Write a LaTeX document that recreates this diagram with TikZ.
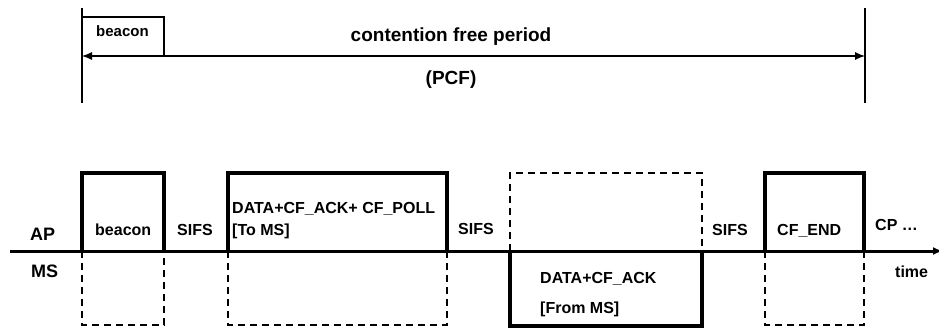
\documentclass[tikz,border=0pt]{standalone}
\usepackage{fontspec}
\setmainfont{Liberation Sans}
\usetikzlibrary{arrows.meta}

\tikzset{
  txt/.style={font=\bfseries\fontsize{16}{18}\selectfont, inner sep=0pt, anchor=base west},
  bigtxt/.style={txt, font=\bfseries\fontsize{18}{20}\selectfont},
  slot/.style={line width=3.2pt},
  idle/.style={line width=1.6pt, dash pattern=on 7pt off 5pt},
  tip/.style={-{Latex[length=10pt,width=8pt]}},
}

\begin{document}
\begin{tikzpicture}[x=1pt,y=-1pt]
    \useasboundingbox (0,0) rectangle (939,331);

    % contention free period
    \coordinate (cfpL) at (82,56); \coordinate (cfpR) at (865,56);
    \draw[line width=2.4pt] (82,8) -- (82,103);
    \draw[line width=2.4pt] (865,8) -- (865,103);
    \draw[line width=1.1pt] (cfpL) -- ++(0,-39) -- ++(82,0) -- ++(0,39);
    \draw[line width=1.1pt,{Latex[length=10pt,width=8pt]}-{Latex[length=10pt,width=8pt]}] (cfpL) -- (cfpR);
    \node[txt, font=\bfseries\fontsize{15}{17}\selectfont] (bcnT) at (96,37) {beacon};
    \node[txt, anchor=base, font=\bfseries\fontsize{19}{21}\selectfont] (cfp) at (451,42) {contention free period};
    \node[txt, anchor=base, font=\bfseries\fontsize{19}{21}\selectfont] (pcf) at (451,85) {(PCF)};

    % time line
    \coordinate (t0) at (10,251); \coordinate (t1) at (943,251);
    \draw[line width=3pt,tip] (t0) -- (t1);

    % AP frames (solid above, idle MS below)
    \foreach \a/\b in {82/164, 228/447, 765/864}{
      \draw[slot] (\a,251) -- (\a,173) -- (\b,173) -- (\b,251);
      \draw[idle] (\a,251) -- (\a,325) -- (\b,325) -- (\b,251);
    }
    % MS frame
    \draw[idle] (510,251) -- (510,173) -- (702,173) -- (702,251);
    \draw[slot] (510,251) -- (510,326) -- (702,326) -- (702,251);

    \node[bigtxt] (ap) at (30,240) {AP};
    \node[bigtxt] (ms) at (31,277) {MS};
    \node[txt] (bcn) at (95,235) {beacon};
    \node[txt] (sifsA) at (177,235) {SIFS};
    \node[txt] (poll) at (232,213) {DATA+CF\_ACK+ CF\_POLL};
    \node[txt] (toms) at (232,235) {[To MS]};
    \node[txt] (sifsB) at (458,234) {SIFS};
    \node[txt] (ack) at (540,283) {DATA+CF\_ACK};
    \node[txt] (fromms) at (540,313) {[From MS]};
    \node[txt] (sifsC) at (712,235) {SIFS};
    \node[txt] (cfend) at (777,235) {CF\_END};
    \node[txt] (cp) at (875,230) {CP \dots};
    \node[txt] (time) at (895,277) {time};
\end{tikzpicture}
\end{document}
